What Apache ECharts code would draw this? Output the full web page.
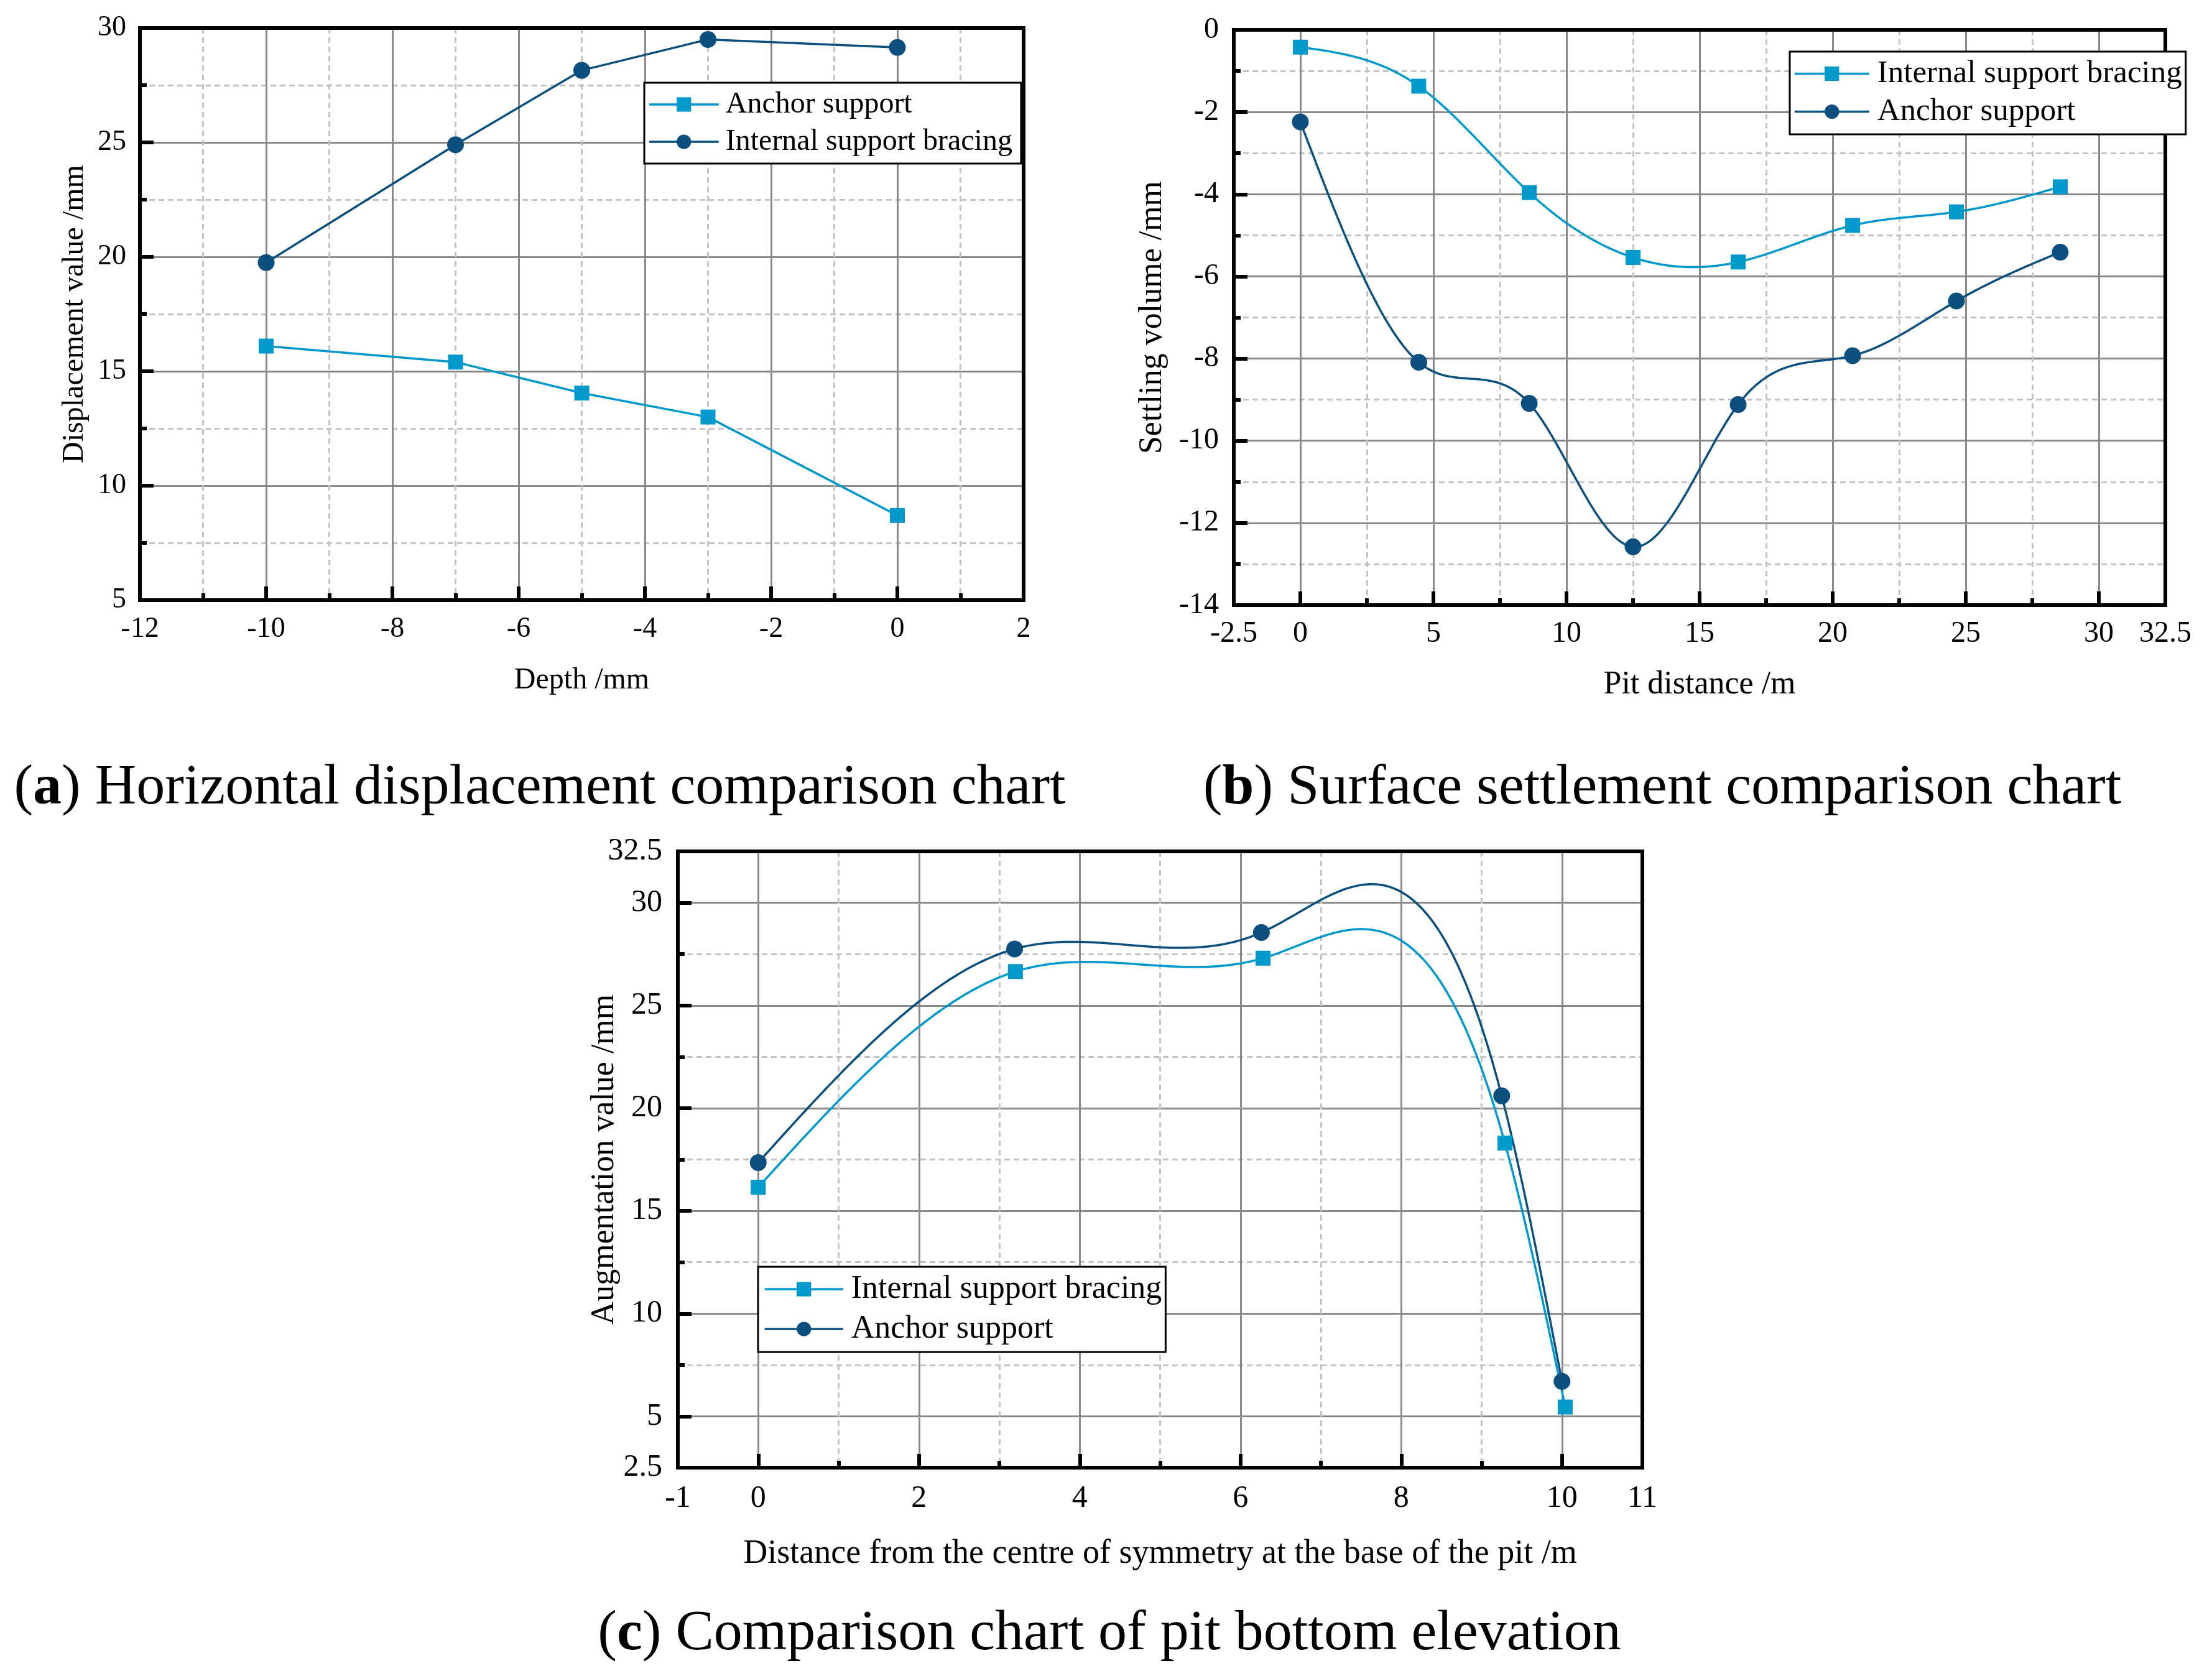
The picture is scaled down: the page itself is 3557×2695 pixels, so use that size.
<!DOCTYPE html>
<html>
<head>
<meta charset="utf-8">
<script src="https://cdn.jsdelivr.net/npm/echarts@6/dist/echarts.min.js"></script>
<style>html,body{margin:0;padding:0;background:#fff}#c{width:3557px;height:2695px}</style>
</head>
<body>
<div id="c"></div>
<script>
// ---------- Panel (a): horizontal displacement ----------
const aDepth = [-10, -7, -5, -3, 0];
const aAnchor = [16.1, 15.4, 14.05, 13.0, 8.7];
const aInternal = [19.75, 24.9, 28.15, 29.5, 29.15];
// ---------- Panel (b): surface settlement ----------
const bDistance = [0, 4.45, 8.6, 12.5, 16.45, 20.75, 24.65, 28.55];
const bInternal = [-0.42, -1.37, -3.96, -5.54, -5.65, -4.76, -4.43, -3.82];
const bAnchor = [-2.24, -8.09, -9.09, -12.58, -9.12, -7.93, -6.6, -5.41];
// ---------- Panel (c): pit bottom elevation ----------
const cDistInternal = [0, 3.2, 6.28, 9.29, 10.04];
const cInternal = [16.15, 26.65, 27.3, 18.3, 5.45];
const cDistAnchor = [0, 3.19, 6.26, 9.25, 10];
const cAnchor = [17.35, 27.75, 28.55, 20.6, 6.7];

const captions = [
  ['a', 'Horizontal displacement comparison chart'],
  ['b', 'Surface settlement comparison chart'],
  ['c', 'Comparison chart of pit bottom elevation']
];

const LIGHT = '#0099cc';
const DARK = '#0a4f7d';
const FONT = 'Liberation Serif';

function pairs(xs, ys) { return xs.map((x, i) => [x, ys[i]]); }

// natural cubic spline through the measured points (curve rendering only)
function splinePath(xs, ys, steps) {
  const n = xs.length, h = [], alpha = [], c = new Array(n).fill(0);
  const l = new Array(n).fill(1), mu = new Array(n).fill(0), z = new Array(n).fill(0);
  const b = [], d = [];
  for (let i = 0; i < n - 1; i++) h[i] = xs[i + 1] - xs[i];
  for (let i = 1; i < n - 1; i++) alpha[i] = 3 / h[i] * (ys[i + 1] - ys[i]) - 3 / h[i - 1] * (ys[i] - ys[i - 1]);
  for (let i = 1; i < n - 1; i++) {
    l[i] = 2 * (xs[i + 1] - xs[i - 1]) - h[i - 1] * mu[i - 1];
    mu[i] = h[i] / l[i];
    z[i] = (alpha[i] - h[i - 1] * z[i - 1]) / l[i];
  }
  for (let j = n - 2; j >= 0; j--) {
    c[j] = z[j] - mu[j] * c[j + 1];
    b[j] = (ys[j + 1] - ys[j]) / h[j] - h[j] * (c[j + 1] + 2 * c[j]) / 3;
    d[j] = (c[j + 1] - c[j]) / (3 * h[j]);
  }
  const out = [];
  for (let j = 0; j < n - 1; j++) {
    for (let k = 0; k < steps; k++) {
      const t = h[j] * k / steps;
      out.push([xs[j] + t, ys[j] + b[j] * t + c[j] * t * t + d[j] * t * t * t]);
    }
  }
  out.push([xs[n - 1], ys[n - 1]]);
  return out;
}

function mainAxis(gridIndex, min, max, extra, fs, margin, nameFs) {
  return Object.assign({
    type: 'value', gridIndex, min, max,
    axisLine: { show: true, onZero: false, lineStyle: { color: '#000', width: 6, cap: 'square' } },
    axisTick: { show: true, inside: true, length: 22, lineStyle: { color: '#000', width: 6 } },
    minorTick: { show: true, splitNumber: 2, length: 11, lineStyle: { color: '#000', width: 6 } },
    splitLine: { show: true, lineStyle: { color: '#8a8a8a', width: 3 } },
    minorSplitLine: { show: true, lineStyle: { color: '#c4c4c4', width: 3, type: [9, 6] } },
    axisLabel: { show: true, fontFamily: FONT, fontSize: fs, color: '#000', margin: margin,
                 showMinLabel: true, showMaxLabel: true, hideOverlap: false },
    nameLocation: 'middle',
    nameMoveOverlap: false,
    nameTextStyle: { fontFamily: FONT, fontSize: nameFs, color: '#000' }
  }, extra);
}
function frameAxis(gridIndex, min, max, position) {
  return {
    type: 'value', gridIndex, min, max, position,
    axisLine: { show: true, onZero: false, lineStyle: { color: '#000', width: 6, cap: 'square' } },
    axisTick: { show: false }, axisLabel: { show: false },
    splitLine: { show: false }, minorTick: { show: false }, minorSplitLine: { show: false }
  };
}
function lineSeries(name, xi, yi, data, light, hideLine) {
  return {
    type: 'line', name, xAxisIndex: xi, yAxisIndex: yi, data,
    smooth: false, symbol: light ? 'rect' : 'circle', symbolSize: light ? 24 : 27,
    lineStyle: { color: light ? LIGHT : DARK, width: 3.5, opacity: hideLine ? 0 : 1 },
    itemStyle: { color: light ? LIGHT : DARK },
    z: 3
  };
}
function splineSeries(xi, yi, xs, ys, light) {
  return {
    type: 'custom', xAxisIndex: xi, yAxisIndex: yi, silent: true, z: 2,
    data: pairs(xs, ys),
    renderItem: function (params, api) {
      if (params.dataIndex !== 0) return null;
      const pts = splinePath(xs, ys, 60).map(p => api.coord(p));
      return {
        type: 'polyline', shape: { points: pts, smooth: 0 },
        style: { stroke: light ? LIGHT : DARK, lineWidth: 3.5, fill: null, lineJoin: 'round' }
      };
    }
  };
}
function legendBox(names, left, top, fs, itemWidth, itemGap, pad, textPad) {
  return {
    orient: 'vertical', left, top, data: names,
    itemWidth, itemHeight: 29, itemGap,
    padding: pad, borderColor: '#000', borderWidth: 3, borderRadius: 0,
    backgroundColor: '#fff', selectedMode: false,
    lineStyle: { opacity: 1, width: 3.5 },
    textStyle: { fontFamily: FONT, fontSize: fs, lineHeight: fs, color: '#000', padding: [0, 0, 0, textPad] }
  };
}

// names (panel a uses its own series labels; trailing space keeps them distinct)
const A_ANCHOR = 'Anchor support ';
const A_INTERNAL = 'Internal support bracing ';
const INTERNAL = 'Internal support bracing';
const ANCHOR = 'Anchor support';

const option = {
  animation: false,
  backgroundColor: '#fff',
  grid: [
    { left: 225, top: 45, width: 1421, height: 920, outerBoundsMode: 'none', containLabel: false },
    { left: 1984, top: 48, width: 1498, height: 925, outerBoundsMode: 'none', containLabel: false },
    { left: 1090, top: 1369, width: 1551, height: 991, outerBoundsMode: 'none', containLabel: false }
  ],
  xAxis: [
    mainAxis(0, -12, 2, { interval: 2, name: 'Depth /mm', nameGap: 105, position: 'bottom' }, 46, 24, 48),
    mainAxis(1, -2.5, 32.5, { splitNumber: 7, name: 'Pit distance /m', nameGap: 102, position: 'bottom' }, 48, 22, 52),
    mainAxis(2, -1, 11, { splitNumber: 6, name: 'Distance from the centre of symmetry at the base of the pit /m', nameGap: 112, position: 'bottom' }, 50, 25, 54),
    frameAxis(0, -12, 2, 'top'),
    frameAxis(1, -2.5, 32.5, 'top'),
    frameAxis(2, -1, 11, 'top')
  ],
  yAxis: [
    mainAxis(0, 5, 30, { interval: 5, name: 'Displacement value /mm', nameGap: 81, position: 'left' }, 46, 22, 48),
    mainAxis(1, -14, 0, { interval: 2, name: 'Settling volume /mm', nameGap: 105, position: 'left' }, 48, 24, 52),
    mainAxis(2, 2.5, 32.5, { splitNumber: 6, name: 'Augmentation value /mm', nameGap: 92, position: 'left' }, 50, 25, 52),
    frameAxis(0, 5, 30, 'right'),
    frameAxis(1, -14, 0, 'right'),
    frameAxis(2, 2.5, 32.5, 'right')
  ],
  legend: [
    legendBox([A_ANCHOR, A_INTERNAL], 1036, 133, 48, 112, 12, [11, 2, 11, 6], 6),
    legendBox([INTERNAL, ANCHOR], 2878, 83, 51, 120, 10, [10, 6, 11, 6], 8),
    legendBox([INTERNAL, ANCHOR], 1219, 2037, 52, 126, 12, [10, 6, 11, 9], 8)
  ],
  series: [
    lineSeries(A_ANCHOR, 0, 0, pairs(aDepth, aAnchor), true, false),
    lineSeries(A_INTERNAL, 0, 0, pairs(aDepth, aInternal), false, false),
    splineSeries(1, 1, bDistance, bInternal, true),
    splineSeries(1, 1, bDistance, bAnchor, false),
    splineSeries(2, 2, cDistInternal, cInternal, true),
    splineSeries(2, 2, cDistAnchor, cAnchor, false),
    lineSeries(INTERNAL, 1, 1, pairs(bDistance, bInternal), true, true),
    lineSeries(ANCHOR, 1, 1, pairs(bDistance, bAnchor), false, true),
    lineSeries(INTERNAL, 2, 2, pairs(cDistInternal, cInternal), true, true),
    lineSeries(ANCHOR, 2, 2, pairs(cDistAnchor, cAnchor), false, true)
  ],
  graphic: [
    [868, 1268], [2673, 1268], [1784, 2628]
  ].map((p, i) => ({
    type: 'text', x: p[0], y: p[1], z: 10,
    style: {
      text: '({b|' + captions[i][0] + '}) ' + captions[i][1],
      fontFamily: FONT, fontSize: 92, fill: '#000',
      align: 'center', verticalAlign: 'middle', textAlign: 'center', textVerticalAlign: 'middle',
      rich: { b: { fontFamily: FONT, fontSize: 92, fontWeight: 'bold', fill: '#000' } }
    }
  }))
};

const chart = echarts.init(document.getElementById('c'), null, { renderer: 'canvas' });
chart.setOption(option);
</script>
</body>
</html>
